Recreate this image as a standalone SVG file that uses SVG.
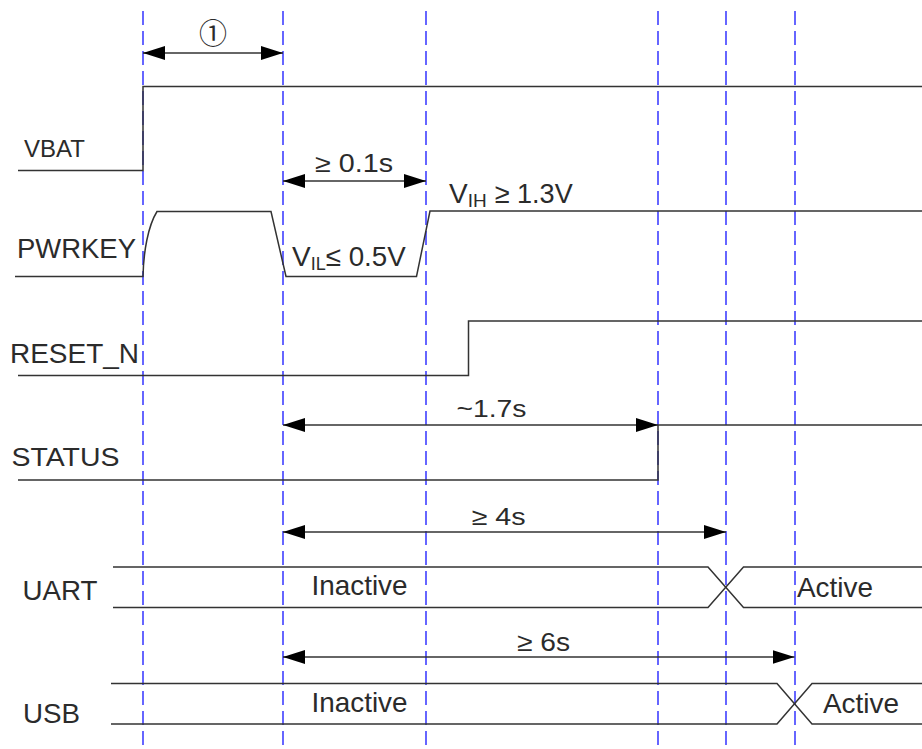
<svg xmlns="http://www.w3.org/2000/svg" width="922" height="749" viewBox="0 0 922 749">
<style>
.grid{stroke:#0000ff;stroke-width:1.2;stroke-dasharray:14 6;fill:none}
.sig{stroke:#333;stroke-width:1.5;fill:none}
.dim{stroke:#333;stroke-width:1.5;fill:none;marker-start:url(#ah);marker-end:url(#ah)}
text{font-family:"Liberation Sans",Arial,sans-serif;fill:#2b2b2b}
.lbl{font-size:27px}
</style>
<defs>
<marker id="ah" viewBox="0 0 22 14" refX="22" refY="7" markerWidth="22" markerHeight="14" markerUnits="userSpaceOnUse" orient="auto-start-reverse">
<path d="M0,0 L22,7 L0,14 z" fill="#000"/>
</marker>
</defs>
<rect width="922" height="749" fill="#fff"/>
<g id="gridlines">
<line class="grid" x1="143" y1="11" x2="143" y2="749"/>
<line class="grid" x1="283" y1="11" x2="283" y2="749"/>
<line class="grid" x1="426" y1="11" x2="426" y2="749"/>
<line class="grid" x1="658" y1="11" x2="658" y2="749"/>
<line class="grid" x1="726" y1="11" x2="726" y2="749"/>
<line class="grid" x1="795" y1="11" x2="795" y2="749"/>
</g>
<g id="vbat">
<path class="sig" d="M18,170.5 H143 V86.5 H922"/>
<text x="24" y="157" style="font-size:24px">VBAT</text>
</g>
<g id="pwrkey">
<path class="sig" d="M15,276.5 H143 C143.5,252 148,226 157,211.5 H271 L286,276.5 H416.5 L430,211 H922"/>
<text class="lbl" x="17" y="258" style="font-size:28px" textLength="119" lengthAdjust="spacingAndGlyphs">PWRKEY</text>
<text x="292" y="266" style="font-size:28px">V<tspan style="font-size:18px" dy="4">IL</tspan><tspan dy="-4" textLength="80" lengthAdjust="spacingAndGlyphs">≤ 0.5V</tspan></text>
<text x="449" y="203" style="font-size:28px">V<tspan style="font-size:19px" dy="4">IH</tspan><tspan dy="-4" dx="8" textLength="78" lengthAdjust="spacingAndGlyphs">≥ 1.3V</tspan></text>
</g>
<g id="reset_n">
<path class="sig" d="M18,375.5 H468.5 V321 H922"/>
<text class="lbl" x="10" y="362.7" textLength="129" lengthAdjust="spacingAndGlyphs">RESET_N</text>
</g>
<g id="status">
<path class="sig" d="M18,480 H658 V425 H922"/>
<text class="lbl" x="11.5" y="465.5" style="font-size:26px" textLength="108" lengthAdjust="spacingAndGlyphs">STATUS</text>
</g>
<g id="uart">
<path class="sig" d="M113,567 H708 L743.5,607.5 H922"/>
<path class="sig" d="M113,607.5 H708 L743.5,567 H922"/>
<text class="lbl" x="22.5" y="600" style="font-size:28px" textLength="75" lengthAdjust="spacingAndGlyphs">UART</text>
<text class="lbl" x="311.5" y="595" style="font-size:28px" textLength="96" lengthAdjust="spacingAndGlyphs">Inactive</text>
<text class="lbl" x="797" y="597" style="font-size:28px" textLength="76" lengthAdjust="spacingAndGlyphs">Active</text>
</g>
<g id="usb">
<path class="sig" d="M111,683.5 H777 L812,724 H922"/>
<path class="sig" d="M111,724 H777 L812,683.5 H922"/>
<text class="lbl" x="23" y="723" style="font-size:28px" textLength="57" lengthAdjust="spacingAndGlyphs">USB</text>
<text class="lbl" x="311.5" y="711.5" style="font-size:28px" textLength="96" lengthAdjust="spacingAndGlyphs">Inactive</text>
<text class="lbl" x="823" y="713" style="font-size:28px" textLength="76" lengthAdjust="spacingAndGlyphs">Active</text>
</g>
<g id="connectors">
<line class="dim" x1="143" y1="53" x2="283" y2="53"/>
<line class="dim" x1="283" y1="181" x2="426" y2="181"/>
<line class="dim" x1="283" y1="425" x2="658" y2="425"/>
<line class="dim" x1="283" y1="532" x2="726" y2="532"/>
<line class="dim" x1="283" y1="657" x2="794.5" y2="657"/>
</g>
<g id="dim-labels">
<text x="213" y="44" text-anchor="middle" style="font-family:'Noto Sans CJK SC','DejaVu Sans',sans-serif;font-size:28px">①</text>
<text x="315" y="171.5" style="font-size:25px" textLength="78" lengthAdjust="spacingAndGlyphs">≥ 0.1s</text>
<text x="456.5" y="416.7" style="font-size:24px" textLength="70" lengthAdjust="spacingAndGlyphs">~1.7s</text>
<text x="471.5" y="525" style="font-size:24px" textLength="54" lengthAdjust="spacingAndGlyphs">≥ 4s</text>
<text x="517" y="650.7" style="font-size:26px" textLength="53" lengthAdjust="spacingAndGlyphs">≥ 6s</text>
</g>
</svg>
